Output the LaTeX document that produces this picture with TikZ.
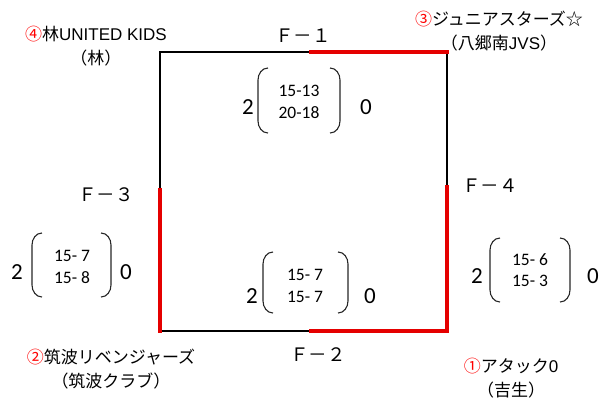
\documentclass[tikz,border=0pt]{standalone}
\usepackage{fontspec}
\setmainfont{Carlito}
\newfontfamily\jpfont{Noto Sans CJK JP}
\newfontfamily\arfont{Liberation Sans}
\usetikzlibrary{positioning,calc}

\begin{document}
\begin{tikzpicture}[x=1pt,y=-1pt,
  court/.style={line width=2.0pt, line cap=rect},
  lost/.style={line width=3.8pt, draw=red!90!black, line cap=rect},
  team/.style={font={\jpfont\fontsize{17}{24}\selectfont}, inner sep=0pt, align=center},
  fname/.style={font={\jpfont\fontsize{18.5}{20}\selectfont}, inner sep=0pt},
  setsc/.style={font={\fontsize{17.5}{21.5}\selectfont}, inner sep=0pt, align=center},
  sets/.style={font={\fontsize{23}{24}\selectfont}, inner sep=0pt},
  paren/.style={line width=1.1pt, draw=black!85}
]
\useasboundingbox (0,0) rectangle (606,405);

% court corners and split points
\coordinate (tl) at (160,52);
\coordinate (tr) at (447,52);
\coordinate (bl) at (160,331);
\coordinate (br) at (447,331);
\coordinate (t1) at (311,52);
\coordinate (b2) at (311,331);
\coordinate (l3) at (160,190);
\coordinate (r4) at (447,187);

\draw[court] (tl) -- (t1);
\draw[court] (tl) -- (l3);
\draw[court] (tr) -- (r4);
\draw[court] (bl) -- (b2);
\draw[lost] (t1) -- (tr);
\draw[lost] (r4) -- (br);
\draw[lost] (b2) -- (br);
\draw[lost] (l3) -- (bl);

% court names
\node[fname] (f1) at (303,36) {Ｆ－１};
\node[fname] (f2) at (318,355) {Ｆ－２};
\node[fname] (f3) at (106,195) {Ｆ－３};
\node[fname] (f4) at (490,186) {Ｆ－４};

% teams
\node[team] (t4) at (96,46) {\textcolor{red}{④}林{\arfont UNITED KIDS}\\（林）};
\node[team] (t3) at (499,31) {\textcolor{red}{③}ジュニアスターズ☆\\（八郷南{\arfont JVS}）};
\node[team] (t2) at (111,369) {\textcolor{red}{②}筑波リベンジャーズ\\（筑波クラブ）};
\node[team] (t1n) at (511,378) {\textcolor{red}{①}アタック{\arfont 0}\\（吉生）};

% scores F-1
\node[setsc] (s1) at (299,102) {15-13\\20-18};
\node[sets] (w1) at (248,107) {2};
\node[sets] (l1) at (366,107) {0};
\draw[paren] (268,68) to[out=180,in=90] (258,80) -- (258,121) to[out=-90,in=180] (268,133);
\draw[paren] (330,68) to[out=0,in=90] (340,80) -- (340,121) to[out=-90,in=0] (330,133);

% scores F-3
\node[setsc] (s3) at (72,267) {15- 7\\15- 8};
\node[sets] (w3) at (17,272) {2};
\node[sets] (l3n) at (126,272) {0};
\draw[paren] (42,233) to[out=180,in=90] (32,245) -- (32,285) to[out=-90,in=180] (42,297);
\draw[paren] (101,233) to[out=0,in=90] (111,245) -- (111,285) to[out=-90,in=0] (101,297);

% scores F-2
\node[setsc] (s2) at (305,286) {15- 7\\15- 7};
\node[sets] (w2) at (252,296) {2};
\node[sets] (l2) at (370,296) {0};
\draw[paren] (273,252) to[out=180,in=90] (263,264) -- (263,301) to[out=-90,in=180] (273,313);
\draw[paren] (338,252) to[out=0,in=90] (348,264) -- (348,301) to[out=-90,in=0] (338,313);

% scores F-4
\node[setsc] (s4) at (530,270) {15- 6\\15- 3};
\node[sets] (w4) at (477,276) {2};
\node[sets] (l4) at (593,276) {0};
\draw[paren] (500,238) to[out=180,in=90] (490,250) -- (490,290) to[out=-90,in=180] (500,302);
\draw[paren] (560,238) to[out=0,in=90] (570,250) -- (570,290) to[out=-90,in=0] (560,302);
\end{tikzpicture}
\end{document}
